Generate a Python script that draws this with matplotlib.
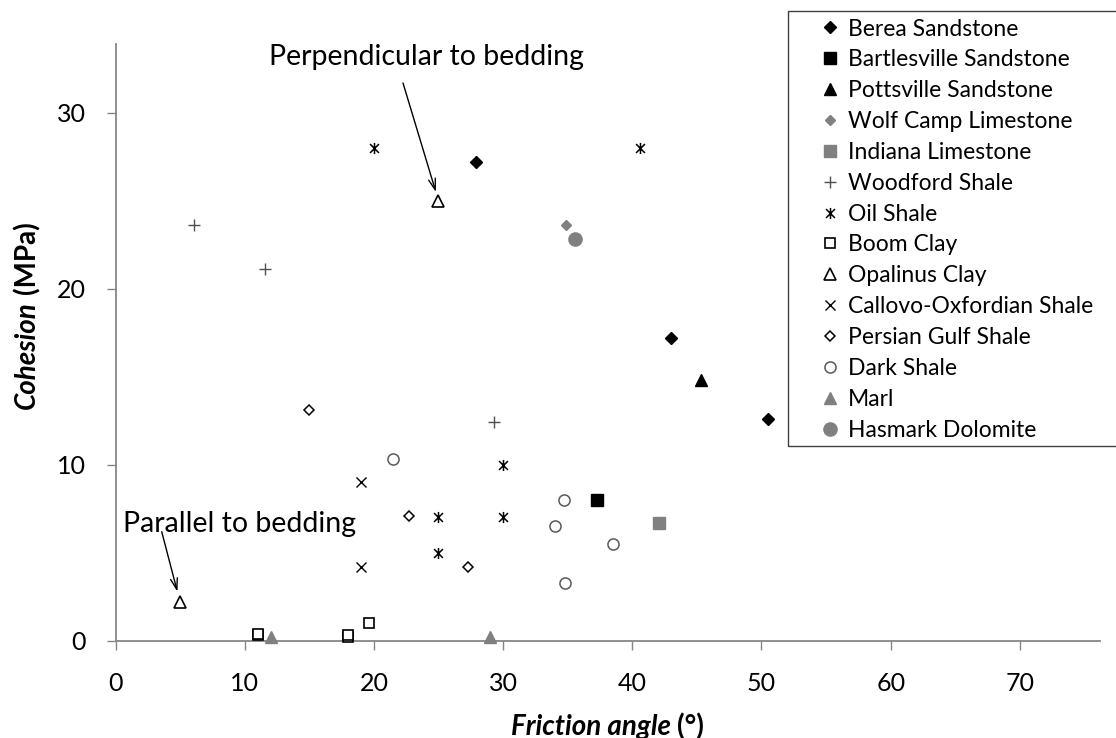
import numpy as np
import matplotlib
matplotlib.use('Agg')
import matplotlib.pyplot as plt
from matplotlib.path import Path
from matplotlib.patches import Rectangle

plt.rcParams['font.family'] = ['Lato', 'DejaVu Sans']

# ---- data (friction angle in deg, cohesion in MPa) ----
berea_x, berea_y = [27.9, 43.0, 50.5], [27.2, 17.2, 12.6]
bartles_x, bartles_y = [37.3], [8.0]
potts_x, potts_y = [45.3], [14.8]
wolf_x, wolf_y = [34.9], [23.6]
indiana_x, indiana_y = [42.1], [6.7]
woodford_x, woodford_y = [6.1, 11.6, 29.3], [23.6, 21.1, 12.4]
oil_x, oil_y = [20.0, 40.6, 30.0, 25.0, 30.0, 25.0], [28.0, 28.0, 10.0, 7.0, 7.0, 5.0]
boom_x, boom_y = [11.0, 11.0, 18.0, 18.0, 19.6], [0.3, 0.4, 0.2, 0.3, 1.0]
opal_x, opal_y = [5.0, 25.0], [2.2, 25.0]
callovo_x, callovo_y = [19.0, 19.0], [9.0, 4.2]
persian_x, persian_y = [15.0, 22.7, 27.3], [13.1, 7.1, 4.2]
dark_x, dark_y = [21.5, 34.7, 34.0, 38.5, 34.8], [10.3, 8.0, 6.5, 5.5, 3.3]
marl_x, marl_y = [12.0, 29.0], [0.2, 0.2]
hasmark_x, hasmark_y = [35.6], [22.8]

x_ticks = [0, 10, 20, 30, 40, 50, 60, 70]
y_ticks = [0, 10, 20, 30]

W, H = 1116, 738
GRAY = '#808080'
AXIS = '#868686'

# excel style "star" marker: an x with a vertical bar through it
star = Path([(-0.8, -0.8), (0.8, 0.8), (-0.8, 0.8), (0.8, -0.8), (0, -1), (0, 1)],
            [Path.MOVETO, Path.LINETO, Path.MOVETO, Path.LINETO, Path.MOVETO, Path.LINETO])

fig = plt.figure(figsize=(W / 100, H / 100), dpi=100)
ax = fig.add_axes([115.5 / W, 1 - 640.7 / H, (1100 - 115.5) / W, (640.7 - 44) / H])

series = [
    (berea_x, berea_y, 'Berea Sandstone', dict(marker='D', ms=6.2, mfc='black', mec='black')),
    (bartles_x, bartles_y, 'Bartlesville Sandstone', dict(marker='s', ms=8, mfc='black', mec='black')),
    (potts_x, potts_y, 'Pottsville Sandstone', dict(marker='^', ms=8.5, mfc='black', mec='black')),
    (wolf_x, wolf_y, 'Wolf Camp Limestone', dict(marker='D', ms=5.4, mfc=GRAY, mec=GRAY)),
    (indiana_x, indiana_y, 'Indiana Limestone', dict(marker='s', ms=8, mfc=GRAY, mec=GRAY)),
    (woodford_x, woodford_y, 'Woodford Shale', dict(marker='+', ms=8, mec='#505050', mew=1.0)),
    (oil_x, oil_y, 'Oil Shale', dict(marker=star, ms=8, mfc='none', mec='black', mew=1.1)),
    (boom_x, boom_y, 'Boom Clay', dict(marker='s', ms=7.5, mfc='white', mec='black', mew=1.2)),
    (opal_x, opal_y, 'Opalinus Clay', dict(marker='^', ms=8, mfc='white', mec='black', mew=1.2)),
    (callovo_x, callovo_y, 'Callovo-Oxfordian Shale', dict(marker='x', ms=6.5, mec='black', mew=1.0)),
    (persian_x, persian_y, 'Persian Gulf Shale', dict(marker='D', ms=5.6, mfc='white', mec='black', mew=1.1)),
    (dark_x, dark_y, 'Dark Shale', dict(marker='o', ms=8, mfc='white', mec='#595959', mew=1.1)),
    (marl_x, marl_y, 'Marl', dict(marker='^', ms=8.5, mfc=GRAY, mec=GRAY)),
    (hasmark_x, hasmark_y, 'Hasmark Dolomite', dict(marker='o', ms=9.5, mfc=GRAY, mec=GRAY)),
]

handles = []
for xs, ys, name, style in series:
    ln, = ax.plot(xs, ys, linestyle='none', label=name, clip_on=False, zorder=3, **style)
    handles.append(ln)

ax.set_xlim(0, 76.2)
ax.set_ylim(0, 33.9)
ax.set_xticks(x_ticks)
ax.set_yticks(y_ticks)

for side in ['top', 'right']:
    ax.spines[side].set_visible(False)
for side in ['left', 'bottom']:
    ax.spines[side].set_color(AXIS)
    ax.spines[side].set_linewidth(1.3)

ax.tick_params(axis='both', direction='out', length=6.5, width=1, color=AXIS,
               labelsize=18, labelcolor='black')
ax.tick_params(axis='x', pad=16)
ax.tick_params(axis='y', pad=15)

# axis titles: bold italic name + bold unit
fig.text(671 / W, 1 - 735 / H, 'Friction angle', fontsize=20, fontweight='bold',
         fontstyle='italic', ha='right', va='baseline')
fig.text(677 / W, 1 - 735 / H, '(°)', fontsize=20, fontweight='bold', ha='left', va='baseline')
fig.text(27 / W, 1 - 409 / H, 'Cohesion', fontsize=20, fontweight='bold',
         fontstyle='italic', rotation=90, ha='center', va='bottom')
fig.text(27 / W, 1 - 221 / H, '(MPa)', fontsize=20, fontweight='bold',
         rotation=90, ha='center', va='top')

# annotations
fig.text(269 / W, 1 - 65 / H, 'Perpendicular to bedding', fontsize=20.5, ha='left', va='baseline')
fig.text(123 / W, 1 - 531.7 / H, 'Parallel to bedding', fontsize=20.5, ha='left', va='baseline')

arrow = dict(arrowstyle='->,head_length=0.8,head_width=0.25', color='black', lw=1,
             shrinkA=0, shrinkB=6.5)
ax.annotate('', xy=(opal_x[1], opal_y[1]), xytext=(403, H - 83),
            textcoords='figure pixels', arrowprops=arrow)
ax.annotate('', xy=(opal_x[0], opal_y[0]), xytext=(161.7, H - 531.7),
            textcoords='figure pixels', arrowprops=dict(arrow, shrinkB=7.7))

# legend (frame drawn separately so it can run off the right edge)
ax.legend(handles=handles, loc='upper left', bbox_to_anchor=(819 / W, 1 - 18.5 / H),
          bbox_transform=fig.transFigure, frameon=False, borderpad=0, borderaxespad=0,
          handlelength=1.0, handletextpad=0.25, labelspacing=0.43, fontsize=16.5,
          numpoints=1)
fig.add_artist(Rectangle((788 / W, 1 - 446 / H), (1140 - 788) / W, (446 - 11) / H,
                         transform=fig.transFigure, fill=False, edgecolor='#404040',
                         lw=1, clip_on=False))

fig.savefig('out.png', dpi=100)
